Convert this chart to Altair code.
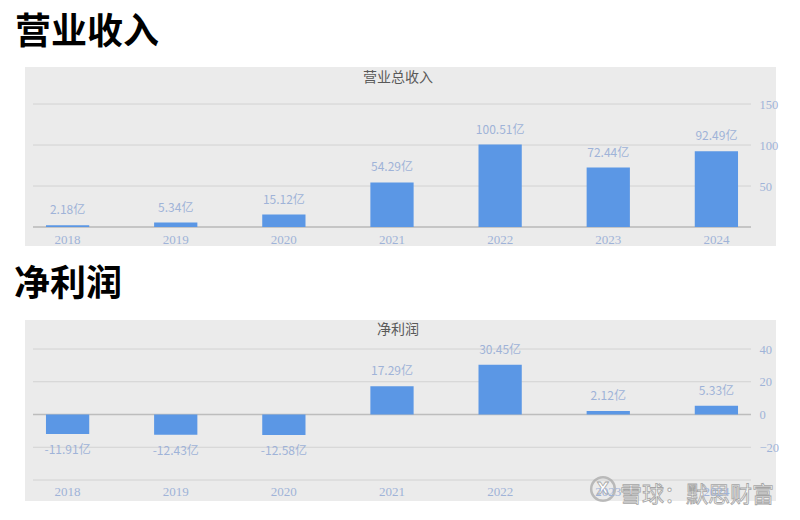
import altair as alt
import pandas as pd

years = ["2018", "2019", "2020", "2021", "2022", "2023", "2024"]
revenue = [2.18, 5.34, 15.12, 54.29, 100.51, 72.44, 92.49]
profit = [-11.91, -12.43, -12.58, 17.29, 30.45, 2.12, 5.33]
rev_ticks = [0, 50, 100, 150]
profit_ticks = [-40, -20, 0, 20, 40]
headings = ["营业收入", "净利润"]
panel_titles = ["营业总收入", "净利润"]
watermark = ["雪球：默思财富"]

BAR = "#5b97e5"
LABEL = "#9fb3d8"
BG = "#ebebeb"
GRID = "#d2d2d2"
ZERO = "#bdbdbd"
CJK = "Noto Sans CJK SC"
SERIF = "Liberation Serif"
W = 718


def panel(values, ticks, height, heading, ptitle, gray_top, gray_bottom,
          heading_x, heading_y, title_y, label_y_pad, wm=False):
    df = pd.DataFrame({"year": years, "v": values})
    df["lab"] = [f"{v:.2f}亿" for v in values]
    tick_df = pd.DataFrame({"t": ticks})
    lo, hi = ticks[0], ticks[-1]
    yscale = alt.Scale(domain=[lo, hi], nice=False, zero=False)
    xscale = alt.Scale(paddingInner=0.6, paddingOuter=0.12)
    yaxis = alt.Axis(orient="right", values=ticks, grid=False, ticks=False,
                     domain=False, labelPadding=8, labelFont=SERIF,
                     labelFontSize=12.5, labelColor=LABEL, title=None, zindex=1,
                     labelOverlap=False, labelFlush=False,
                     labelExpr=f"datum.value == {lo} ? '' : datum.label")
    xaxis = alt.Axis(labelAngle=0, ticks=False, domain=False, grid=False,
                     labelPadding=label_y_pad, labelFont=SERIF, labelFontSize=13,
                     labelColor=LABEL, title=None, zindex=1, labelOverlap=False)

    bg = alt.Chart(pd.DataFrame({"a": [0]})).mark_rect(color=BG, clip=False).encode(
        x=alt.value(-8), x2=alt.value(743), y=alt.value(gray_top), y2=alt.value(gray_bottom)
    )
    head = alt.Chart(pd.DataFrame({"h": [heading]})).mark_text(
        font=CJK, fontSize=36, fontWeight="bold", color="#000000",
        align="left", baseline="middle"
    ).encode(text="h:N", x=alt.value(heading_x), y=alt.value(heading_y))
    ttl = alt.Chart(pd.DataFrame({"h": [ptitle]})).mark_text(
        font=CJK, fontSize=14, color="#595959", align="center", baseline="middle"
    ).encode(text="h:N", x=alt.value(365), y=alt.value(title_y))

    grid = alt.Chart(tick_df).mark_rule(color=GRID, strokeWidth=1).encode(
        y=alt.Y("t:Q", scale=yscale, axis=yaxis)
    )
    zero = alt.Chart(pd.DataFrame({"t": [0]})).mark_rule(color=ZERO, strokeWidth=1.5).encode(
        y=alt.Y("t:Q", scale=yscale, axis=yaxis)
    )
    xt = alt.X("year:N", sort=years, scale=xscale, axis=xaxis)
    yt = alt.Y("v:Q", scale=yscale, axis=yaxis)
    bars = alt.Chart(df).mark_bar(color=BAR).encode(x=xt, y=yt)
    pos = alt.Chart(df).transform_filter("datum.v >= 0").mark_text(
        font=CJK, fontSize=12, color=LABEL, baseline="middle", dy=-15
    ).encode(x=xt, y=yt, text="lab:N")
    neg = alt.Chart(df).transform_filter("datum.v < 0").mark_text(
        font=CJK, fontSize=12, color=LABEL, baseline="middle", dy=16
    ).encode(x=xt, y=yt, text="lab:N")

    layers = [bg, head, ttl, grid, zero, bars, pos, neg]
    if wm:
        ring = alt.Chart(pd.DataFrame({"a": [0]})).mark_point(
            shape="circle", size=560, filled=False, stroke="#a5a5a5", strokeWidth=2.5
        ).encode(x=alt.value(570), y=alt.value(140))
        xmark = alt.Chart(pd.DataFrame({"h": ["X"]})).mark_text(
            font="DejaVu Sans", fontSize=16, fontWeight="bold", color="#ffffff",
            stroke="#a5a5a5", strokeWidth=0.8, align="center", baseline="middle"
        ).encode(text="h:N", x=alt.value(570), y=alt.value(140))
        wtxt = alt.Chart(pd.DataFrame({"h": watermark})).mark_text(
            font=CJK, fontSize=22, color="#fbfbfb", stroke="#a5a5a5", strokeWidth=0.8,
            align="left", baseline="middle"
        ).encode(text="h:N", x=alt.value(587), y=alt.value(146))
        layers += [ring, xmark, wtxt]
    return alt.layer(*layers).properties(width=W, height=height)


p1 = panel(revenue, rev_ticks, 123, headings[0], panel_titles[0],
           gray_top=-37, gray_bottom=142, heading_x=-18, heading_y=-71.5,
           title_y=-26, label_y_pad=6)
p2 = panel(profit, profit_ticks, 131, headings[1], panel_titles[1],
           gray_top=-29, gray_bottom=152, heading_x=-19, heading_y=-64.5,
           title_y=-19, label_y_pad=5, wm=True)

chart = alt.vconcat(p1, p2, spacing=20).properties(
    padding={"left": 6, "top": 6, "right": 0, "bottom": 0},
    background="#ffffff"
).configure_view(stroke=None)

chart.save("out.html", embed_options={"renderer": "svg", "actions": False})
